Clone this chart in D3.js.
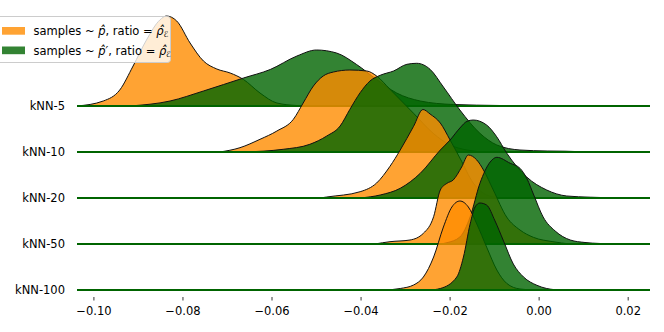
<!DOCTYPE html>
<html>
<head>
<meta charset="utf-8">
<script src="https://cdn.jsdelivr.net/npm/d3@7/dist/d3.min.js"></script>
<style>
  body { margin: 0; background: #fff; }
  svg { font-family: "DejaVu Sans", sans-serif; }
</style>
</head>
<body>
<div id="chart"></div>
<script>
// rows, top to bottom
var rows = ['kNN-5', 'kNN-10', 'kNN-20', 'kNN-50', 'kNN-100'];
var xTicks = [-0.10, -0.08, -0.06, -0.04, -0.02, 0.00, 0.02];
var xDomain = [-0.1038, 0.0249];

// density curves: [value, density]
var densP = [
  [[-0.1038, 0], [-0.0979, 5], [-0.0942, 16], [-0.0912, 40], [-0.0882, 66], [-0.0852, 86], [-0.0837, 90],
   [-0.0814, 85], [-0.0784, 63], [-0.0754, 45], [-0.0724, 37], [-0.0694, 33], [-0.0664, 26.5],
   [-0.0627, 13], [-0.0589, 3], [-0.0544, 0.5], [-0.0500, 0]],
  [[-0.0717, 0], [-0.0672, 4.3], [-0.0627, 12.7], [-0.0589, 21], [-0.0552, 32.7], [-0.0530, 49],
   [-0.0507, 66], [-0.0485, 76], [-0.0462, 80], [-0.0425, 82], [-0.0387, 81], [-0.0365, 76],
   [-0.0335, 62.7], [-0.0282, 38.7], [-0.0238, 18.7], [-0.0200, 7], [-0.0162, 2], [-0.0126, 0]],
  [[-0.0492, 0], [-0.0477, 1], [-0.0402, 6.3], [-0.0365, 15], [-0.0335, 31.7], [-0.0312, 48],
   [-0.0282, 71.7], [-0.0261, 88.5], [-0.0245, 84], [-0.0222, 75], [-0.0200, 58], [-0.0178, 40],
   [-0.0148, 15], [-0.0118, 3], [-0.0088, 0]],
  [[-0.0369, 0], [-0.0335, 2.3], [-0.0290, 4], [-0.0260, 10.7], [-0.0237, 27.3], [-0.0222, 54],
   [-0.0207, 60.7], [-0.0193, 64], [-0.0174, 77], [-0.0159, 89], [-0.0140, 84], [-0.0125, 74],
   [-0.0103, 54], [-0.0073, 27], [-0.0043, 14], [-0.0013, 6.7], [0.0031, 2.3], [0.0070, 0]],
  [[-0.0346, 0], [-0.0312, 1.5], [-0.0282, 5], [-0.0260, 13], [-0.0237, 33], [-0.0215, 63],
   [-0.0196, 83], [-0.0178, 89], [-0.0159, 83], [-0.0140, 66], [-0.0118, 43], [-0.0095, 20],
   [-0.0073, 6.7], [-0.0043, 1], [-0.0009, 0]]
];

var densQ = [
  [[-0.0919, 0], [-0.0829, 5], [-0.0754, 15], [-0.0664, 28], [-0.0604, 36.5], [-0.0544, 50],
   [-0.0500, 56], [-0.0455, 53], [-0.0410, 41.5], [-0.0365, 26.5], [-0.0320, 13], [-0.0267, 5],
   [-0.0193, 1.5], [-0.0088, 0.5], [-0.0020, 0]],
  [[-0.0665, 0], [-0.0575, 2.7], [-0.0515, 7.7], [-0.0477, 16], [-0.0447, 26], [-0.0425, 42.7],
   [-0.0402, 59.3], [-0.0380, 71], [-0.0357, 76.7], [-0.0327, 81], [-0.0297, 87.7], [-0.0275, 88.7],
   [-0.0245, 82.7], [-0.0215, 65], [-0.0178, 42], [-0.0133, 18.7], [-0.0095, 7], [-0.0043, 2],
   [0.0018, 1], [0.0058, 0.8], [0.0115, 0]],
  [[-0.0402, 0], [-0.0357, 3], [-0.0312, 9.7], [-0.0267, 24.7], [-0.0222, 48], [-0.0200, 58],
   [-0.0178, 70], [-0.0162, 76.7], [-0.0148, 78], [-0.0118, 73], [-0.0096, 61.7], [-0.0073, 45],
   [-0.0028, 21], [0.0017, 8], [0.0062, 2], [0.0115, 0.8], [0.0175, 0]],
  [[-0.0222, 0], [-0.0207, 1.3], [-0.0178, 7], [-0.0155, 27], [-0.0133, 60.7], [-0.0110, 82],
   [-0.0095, 86.7], [-0.0065, 80.7], [-0.0043, 75.7], [-0.0027, 65], [-0.0013, 50], [0.0009, 27],
   [0.0036, 13], [0.0070, 4], [0.0103, 1.5], [0.0137, 0.5], [0.0171, 0]],
  [[-0.0245, 0], [-0.0222, 1.5], [-0.0185, 13], [-0.0170, 33], [-0.0155, 66], [-0.0144, 83],
   [-0.0133, 87], [-0.0118, 85], [-0.0099, 69], [-0.0080, 49], [-0.0058, 26], [-0.0035, 13],
   [-0.0005, 4.7], [0.0017, 1.5], [0.0047, 0]]
];

var seriesColors = ['#ff8c00', '#006400'];

var width = 664, height = 332;

var svg = d3.select('#chart')
  .append('svg')
  .attr('width', width)
  .attr('height', height);

var x = d3.scaleLinear().domain(xDomain).range([77, 650]);
var yRow = d3.scalePoint().domain(rows).range([106, 290]);
var yDens = d3.scaleLinear().domain([0, 90]).range([0, 90]);

rows.forEach(function (name, i) {
  var base = yRow(name);
  var g = svg.append('g').attr('class', 'ridge');

  var area = d3.area()
    .curve(d3.curveMonotoneX)
    .x(function (d) { return x(d[0]); })
    .y0(base)
    .y1(function (d) { return base - yDens(d[1]); });
  var line = d3.line()
    .curve(d3.curveMonotoneX)
    .x(function (d) { return x(d[0]); })
    .y(function (d) { return base - yDens(d[1]); });

  [densP[i], densQ[i]].forEach(function (data, k) {
    g.append('path')
      .datum(data)
      .attr('d', area)
      .attr('fill', seriesColors[k])
      .attr('fill-opacity', 0.8);
    g.append('path')
      .datum(data)
      .attr('d', line)
      .attr('fill', 'none')
      .attr('stroke', '#111')
      .attr('stroke-width', 1);
  });

  // baseline of the row
  g.append('line')
    .attr('x1', x(xDomain[0]))
    .attr('x2', x(xDomain[1]))
    .attr('y1', base)
    .attr('y2', base)
    .attr('stroke', '#006400')
    .attr('stroke-width', 2);

  g.append('text')
    .attr('x', 65)
    .attr('y', base)
    .attr('dy', '0.35em')
    .attr('text-anchor', 'end')
    .attr('font-size', 11.5)
    .attr('fill', '#000')
    .text(name);
});

// x axis, no spine
var xAxis = svg.append('g')
  .attr('class', 'xAxis')
  .attr('transform', 'translate(0,297)');
xAxis.selectAll('line')
  .data(xTicks)
  .enter()
  .append('line')
  .attr('x1', function (d) { return x(d); })
  .attr('x2', function (d) { return x(d); })
  .attr('y1', 0)
  .attr('y2', 3.5)
  .attr('stroke', '#000')
  .attr('stroke-width', 0.8);
xAxis.selectAll('text')
  .data(xTicks)
  .enter()
  .append('text')
  .attr('x', function (d) { return x(d); })
  .attr('y', 18)
  .attr('text-anchor', 'middle')
  .attr('font-size', 11.5)
  .text(function (d) { return d3.format('.2f')(d).replace('-', '\u2212'); });

// legend
var legend = svg.append('g').attr('class', 'legend');
legend.append('rect')
  .attr('x', -4)
  .attr('y', 16.5)
  .attr('width', 174.5)
  .attr('height', 46)
  .attr('rx', 3)
  .attr('fill', '#fff')
  .attr('fill-opacity', 0.8)
  .attr('stroke', '#ccc')
  .attr('stroke-width', 1);

var legendItems = [
  { prime: '' },
  { prime: '\u2032' }
];
legendItems.forEach(function (item, k) {
  var yy = 27 + k * 19.5;
  legend.append('rect')
    .attr('x', 2)
    .attr('y', yy)
    .attr('width', 23)
    .attr('height', 7.7)
    .attr('fill', seriesColors[k])
    .attr('fill-opacity', 0.8);
  var t = legend.append('text')
    .attr('x', 33.5)
    .attr('y', yy + 8)
    .attr('font-size', 11.5)
    .attr('fill', '#000');
  t.append('tspan').text('samples ~ ');
  t.append('tspan').attr('font-style', 'italic').text('p\u0302' + item.prime);
  t.append('tspan').text(', ratio = ');
  t.append('tspan').attr('font-style', 'italic').text('\u03c1\u0302');
  t.append('tspan').attr('font-style', 'italic').attr('font-size', 8).attr('dy', 2).text('\u2130');
});
</script>
</body>
</html>
